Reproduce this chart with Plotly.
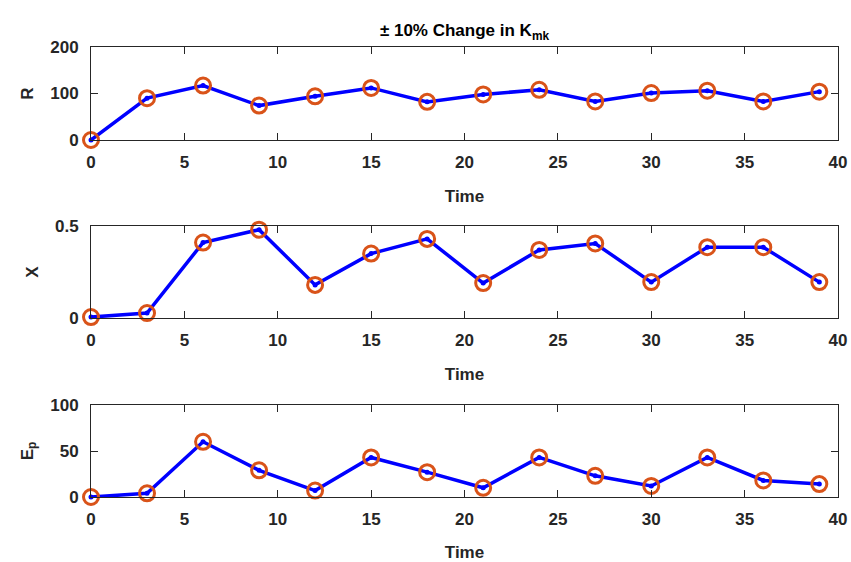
import plotly.graph_objects as go
from plotly.subplots import make_subplots

time = [0, 3, 6, 9, 12, 15, 18, 21, 24, 27, 30, 33, 36, 39]
R_vals = [0, 90, 117, 74, 94, 112, 82, 98, 108, 83, 101, 106, 83, 104]
X_vals = [0.005, 0.027, 0.41, 0.48, 0.18, 0.35, 0.43, 0.19, 0.37, 0.405, 0.195, 0.385, 0.385, 0.195]
Ep_vals = [0, 4, 60, 29, 7, 43, 27, 10, 43, 23, 12, 43, 18, 14]

x_ticks = [0, 5, 10, 15, 20, 25, 30, 35, 40]
panels = [
    ("R", R_vals, [0, 200], [0, 100, 200], ["0", "100", "200"]),
    ("X", X_vals, [0, 0.5], [0, 0.5], ["0", "0.5"]),
    ("E<sub>p</sub>", Ep_vals, [0, 100], [0, 50, 100], ["0", "50", "100"]),
]
title_text = "± 10% Change in K<sub>mk</sub>"

W, H = 851, 562
fig = make_subplots(rows=3, cols=1)
boxes = [(47, 140), (226, 318), (405, 497)]
axis_col = "#262626"
font_fam = "Liberation Sans, Arial, sans-serif"
fs = 17

for i, (lab, vals, yr, yt, ytl) in enumerate(panels):
    r = i + 1
    fig.add_trace(go.Scatter(x=time, y=vals, mode="lines+markers",
                             line=dict(color="#0000FF", width=3.5),
                             marker=dict(color="#0000FF", size=5),
                             cliponaxis=False, showlegend=False), row=r, col=1)
    fig.add_trace(go.Scatter(x=time, y=vals, mode="markers",
                             marker=dict(symbol="circle-open", color="#D95319", size=15,
                                         line=dict(width=3, color="#D95319")),
                             cliponaxis=False, showlegend=False), row=r, col=1)
    top, bot = boxes[i]
    fig.update_yaxes(row=r, col=1, domain=[1 - bot / H, 1 - top / H], range=yr,
                     tickvals=yt, ticktext=ytl, ticks="inside", ticklen=7,
                     tickcolor=axis_col, showline=True, linecolor=axis_col, linewidth=1,
                     mirror="ticks", showgrid=False, zeroline=False, automargin=False,
                     ticklabelstandoff=8,
                     title=dict(text=lab, standoff=12,
                                font=dict(size=fs, color=axis_col, family=font_fam, weight="bold")),
                     tickfont=dict(size=fs, color=axis_col, family=font_fam, weight="bold"))
    fig.update_xaxes(row=r, col=1, range=[0, 40], tickvals=x_ticks, ticks="inside", ticklen=7,
                     tickcolor=axis_col, showline=True, linecolor=axis_col, linewidth=1,
                     mirror="ticks", showgrid=False, zeroline=False, automargin=False,
                     ticklabelstandoff=7,
                     title=dict(text="Time", standoff=18,
                                font=dict(size=fs, color=axis_col, family=font_fam, weight="bold")),
                     tickfont=dict(size=fs, color=axis_col, family=font_fam, weight="bold"))

fig.update_layout(
    width=W, height=H,
    margin=dict(l=91, r=13, t=0, b=0),
    paper_bgcolor="white", plot_bgcolor="white",
    font=dict(family=font_fam, color=axis_col, weight="bold"),
    title=dict(text=title_text, x=0.5, xref="paper", xanchor="center",
               y=1 - 30 / H, yanchor="middle", automargin=False,
               font=dict(size=fs, color="#000000", family=font_fam, weight="bold")),
)

fig.write_html("out.html")
